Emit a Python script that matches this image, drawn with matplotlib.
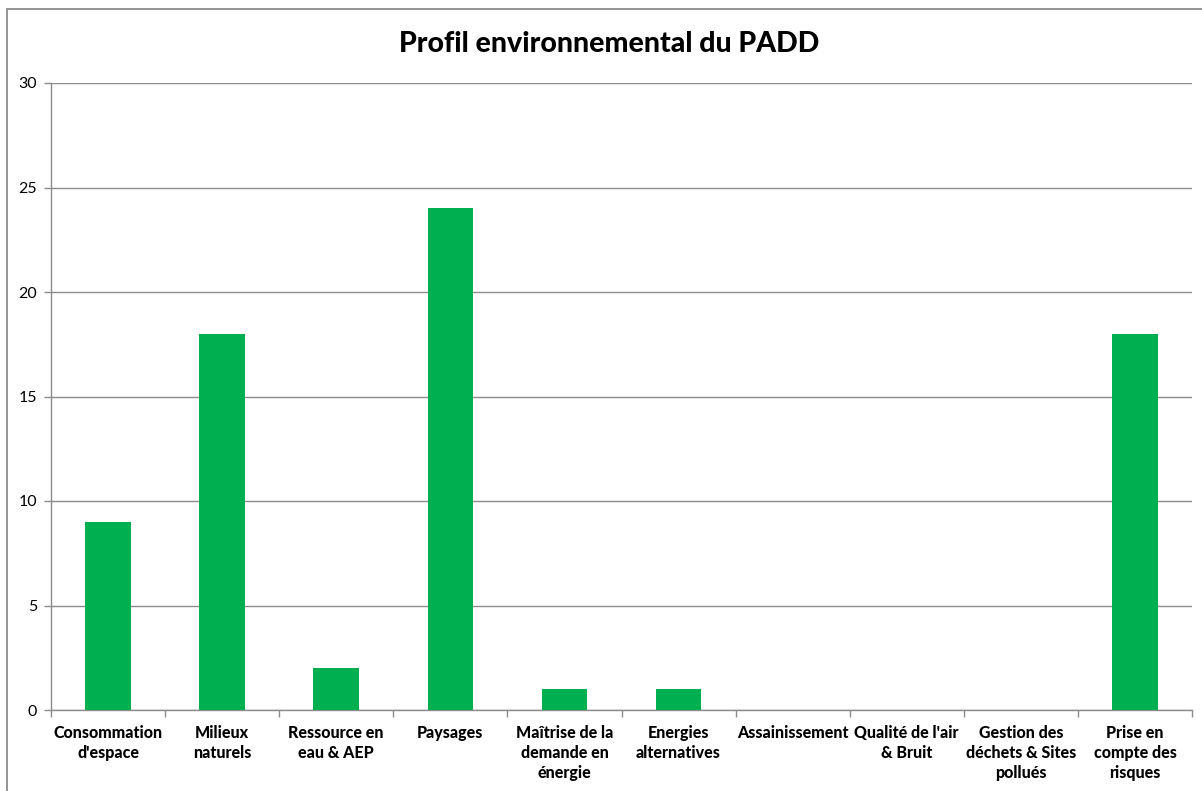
import matplotlib
matplotlib.use("Agg")
import matplotlib.pyplot as plt
from matplotlib.patches import Rectangle
import numpy as np

# categories and scores
categories = [
    "Consommation\nd'espace",
    "Milieux\nnaturels",
    "Ressource en\neau & AEP",
    "Paysages",
    "Maîtrise de la\ndemande en\nénergie",
    "Energies\nalternatives",
    "Assainissement",
    "Qualité de l'air\n& Bruit",
    "Gestion des\ndéchets & Sites\npollués",
    "Prise en\ncompte des\nrisques",
]
scores = [9, 18, 2, 24, 1, 1, 0, 0, 0, 18]
yticks = [0, 5, 10, 15, 20, 25, 30]

plt.rcParams['font.family'] = ['Lato', 'DejaVu Sans']

W, H = 1202, 791
fig = plt.figure(figsize=(W / 100, H / 100), dpi=100)
ax = fig.add_axes([51 / W, 1 - 710 / H, (1192 - 51) / W, (710 - 83) / H])

# outer chart border (runs off the right and bottom edges)
fig.patches.append(Rectangle((7 / W, -0.05), 1.1, 1 - 9 / H + 0.05,
                             transform=fig.transFigure, fill=False,
                             edgecolor='#8c8c8c', lw=1.3, zorder=0))

x = np.arange(len(categories))
ax.bar(x, scores, width=0.4, color='#00B050', zorder=3)

ax.set_xlim(-0.5, len(categories) - 0.5)
ax.set_ylim(0, 30)
ax.set_yticks(yticks)
ax.set_yticklabels([str(v) for v in yticks], fontsize=11.5, color='black')
ax.grid(axis='y', color='#8c8c8c', lw=1, zorder=0)

ax.set_xticks(x)
ax.set_xticklabels(categories, fontsize=11.5, fontweight='black', linespacing=1.3,
                   va='top')
ax.tick_params(axis='x', length=0, pad=11)
ax.set_xticks(np.arange(len(categories) + 1) - 0.5, minor=True)
ax.tick_params(axis='x', which='minor', length=5, color='#8c8c8c', width=1)
ax.tick_params(axis='y', length=5, color='#8c8c8c', width=1, pad=5)

for side in ['top', 'right']:
    ax.spines[side].set_visible(False)
for side in ['left', 'bottom']:
    ax.spines[side].set_color('#8c8c8c')
    ax.spines[side].set_linewidth(1)

fig.text(609 / W, 1 - 44 / H, "Profil environnemental du PADD",
         ha='center', va='center', fontsize=20.5, fontweight='black')

fig.savefig("out.png", dpi=100)
